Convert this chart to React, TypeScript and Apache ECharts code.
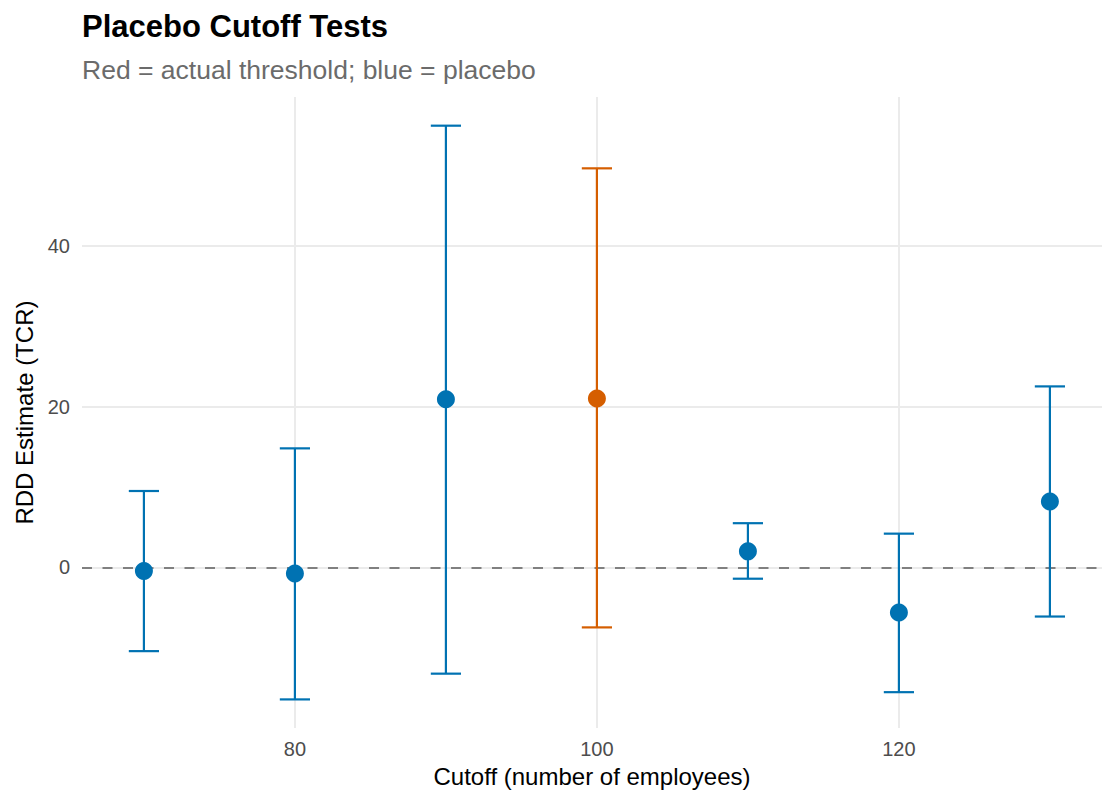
import { useEffect, useRef } from "react";
import * as echarts from "echarts";

// ---- Data ----
const cutoffs = [70, 80, 90, 100, 110, 120, 130];
const estimates = [-0.45, -0.75, 20.9, 21.0, 2.0, -5.6, 8.2];
const lowerCI = [-10.4, -16.4, -13.2, -7.45, -1.4, -15.5, -6.1];
const upperCI = [9.5, 14.8, 54.9, 49.6, 5.5, 4.2, 22.5];
const actualCutoff = 100;
const xTickValues = [80, 100, 120];
const yTickValues = [0, 20, 40];
const xVisibleMax = 133.45; // right edge of the visible panel

const titleText = "Placebo Cutoff Tests";
const subtitleText = "Red = actual threshold; blue = placebo";
const xAxisTitle = "Cutoff (number of employees)";
const yAxisTitle = "RDD Estimate (TCR)";

const BLUE = "#0072B2";
const RED = "#D55E00";
const FONT = "Liberation Sans, Arial, Helvetica, sans-serif";
const CAP_HALF = 1; // errorbar half-width in x units

export default function App() {
  const ref = useRef<HTMLDivElement>(null);

  useEffect(() => {
    if (!ref.current) return;
    const chart = echarts.init(ref.current, undefined, { renderer: "svg" });

    // ggplot-like 5% expansion of data range
    const xLo = Math.min(...cutoffs) - CAP_HALF;
    const xHi = Math.max(...cutoffs) + CAP_HALF;
    const xR = xHi - xLo;
    const yLo = Math.min(...lowerCI);
    const yHi = Math.max(...upperCI);
    const yR = yHi - yLo;

    const colorFor = (x: number) => (x === actualCutoff ? RED : BLUE);

    const barData = cutoffs.map((c, i) => [c, lowerCI[i], upperCI[i]]);
    const pointData = cutoffs.map((c, i) => ({
      value: [c, estimates[i]],
      itemStyle: { color: colorFor(c), opacity: 1 },
    }));

    chart.setOption({
      animation: false,
      backgroundColor: "#ffffff",
      title: [
        {
          text: titleText,
          left: 77,
          top: 6,
          textStyle: { fontFamily: FONT, fontSize: 31, fontWeight: "bold", color: "#000000" },
        },
        {
          text: subtitleText,
          left: 77,
          top: 51,
          textStyle: { fontFamily: FONT, fontSize: 26.5, fontWeight: "normal", color: "#6b6b6b" },
        },
      ],
      grid: { left: 82, top: 97, right: 0, height: 632, containLabel: false },
      xAxis: {
        type: "value",
        min: xLo - 0.05 * xR,
        max: xVisibleMax,
        name: xAxisTitle,
        nameLocation: "middle",
        nameGap: 35,
        nameTextStyle: { fontFamily: FONT, fontSize: 24, color: "#000000" },
        axisLine: { show: false },
        axisTick: { show: false, customValues: xTickValues },
        axisLabel: {
          customValues: xTickValues,
          fontFamily: FONT,
          fontSize: 20,
          color: "#4d4d4d",
          margin: 11,
        },
        splitLine: { show: true, lineStyle: { color: "#ebebeb", width: 2 } },
      },
      yAxis: {
        type: "value",
        min: yLo - 0.05 * yR,
        max: yHi + 0.05 * yR,
        name: yAxisTitle,
        nameLocation: "middle",
        nameGap: 43,
        nameTextStyle: { fontFamily: FONT, fontSize: 24, color: "#000000" },
        axisLine: { show: false },
        axisTick: { show: false, customValues: yTickValues },
        axisLabel: {
          customValues: yTickValues,
          fontFamily: FONT,
          fontSize: 20,
          color: "#4d4d4d",
          margin: 12,
        },
        splitLine: { show: true, lineStyle: { color: "#ebebeb", width: 2 } },
      },
      series: [
        {
          type: "custom",
          data: barData,
          encode: { x: 0, y: [1, 2] },
          z: 2,
          renderItem: (_params: any, api: any) => {
            const x = api.value(0);
            const lo = api.value(1);
            const hi = api.value(2);
            const top = api.coord([x, hi]);
            const bot = api.coord([x, lo]);
            const l = api.coord([x - CAP_HALF, hi]);
            const r = api.coord([x + CAP_HALF, hi]);
            const style = { stroke: colorFor(x), lineWidth: 2.2 };
            return {
              type: "group",
              children: [
                { type: "line", shape: { x1: top[0], y1: top[1], x2: bot[0], y2: bot[1] }, style },
                { type: "line", shape: { x1: l[0], y1: top[1], x2: r[0], y2: top[1] }, style },
                { type: "line", shape: { x1: l[0], y1: bot[1], x2: r[0], y2: bot[1] }, style },
              ],
            };
          },
          markLine: {
            silent: true,
            symbol: "none",
            label: { show: false },
            lineStyle: { color: "#808080", type: [10, 10.5], width: 2 },
            data: [{ yAxis: 0 }],
            z: 1,
          },
        },
        {
          type: "scatter",
          data: pointData,
          symbol: "circle",
          symbolSize: 18,
          z: 3,
        },
      ],
    });

    return () => chart.dispose();
  }, []);

  return (
    <div
      ref={ref}
      style={{ position: "absolute", left: 0, top: 0, width: 1102, height: 793 }}
    />
  );
}
